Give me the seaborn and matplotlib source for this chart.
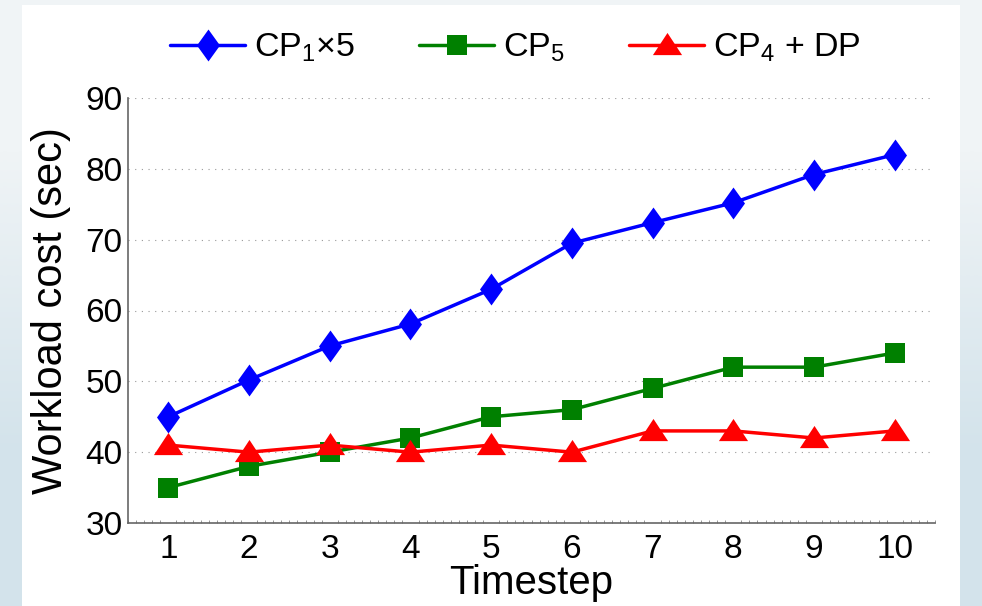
import numpy as np
import pandas as pd
import matplotlib
matplotlib.use('Agg')
import matplotlib.pyplot as plt
import seaborn as sns
from matplotlib.ticker import MultipleLocator, AutoMinorLocator
from matplotlib.patches import Rectangle
from matplotlib.colors import LinearSegmentedColormap

# Data -----------------------------------------------------------------------
timesteps = [1, 2, 3, 4, 5, 6, 7, 8, 9, 10]
cp1x5 = [45, 50.2, 55, 58.1, 63, 69.5, 72.4, 75.2, 79.2, 82]
cp5 = [35, 38, 40, 42, 45, 46, 49, 52, 52, 54]
cp4dp = [41, 40, 41, 40, 41, 40, 43, 43, 42, 43]
series_names = [r'CP$_1$×5', r'CP$_5$', r'CP$_4$ + DP']

data = pd.DataFrame({
    'Timestep': timesteps * 3,
    'cost': cp1x5 + cp5 + cp4dp,
    'series': np.repeat(series_names, len(timesteps)),
})

# MATLAB-like marker shapes (tall diamond, wide triangle)
diamond = [(0, 1), (0.72, 0), (0, -1), (-0.72, 0), (0, 1)]
triangle = [(0, 0.86), (1, -0.66), (-1, -0.66), (0, 0.86)]
marker_sizes = [23, 14.5, 21]

sns.set_style('white')
plt.rcParams['font.family'] = ['Liberation Sans', 'DejaVu Sans']
plt.rcParams['mathtext.fontset'] = 'custom'
plt.rcParams['mathtext.rm'] = 'Liberation Sans'
plt.rcParams['mathtext.it'] = 'Liberation Sans'
plt.rcParams['text.color'] = 'black'
plt.rcParams['axes.labelcolor'] = 'black'

fig = plt.figure(figsize=(9.82, 6.06), dpi=100)

# slide-like background: soft blue gradient with a white panel
bg = fig.add_axes([0, 0, 1, 1], zorder=-20)
bg_cmap = LinearSegmentedColormap.from_list('bg', ['#d3e3eb', '#f0f4f6'])
bg.imshow([[1.0], [0.0]], cmap=bg_cmap, aspect='auto', interpolation='bilinear',
          extent=[0, 1, 0, 1])
bg.axis('off')
bg.add_patch(Rectangle((22 / 982, 0), (960 - 22) / 982, 1 - 5 / 606,
                       facecolor='white', edgecolor='none'))
bg.set_xlim(0, 1)
bg.set_ylim(0, 1)

ax = fig.add_axes([128 / 982, 1 - 523 / 606, (935 - 128) / 982, (523 - 98) / 606])
ax.set_facecolor('white')

sns.lineplot(data=data, x='Timestep', y='cost', hue='series', style='series',
             palette=['#0000ff', '#008000', '#ff0000'],
             markers=[diamond, 's', triangle], dashes=False,
             markeredgewidth=0, linewidth=2.5, ax=ax, legend=False)

data_lines = ax.lines[:3]
for line, ms in zip(data_lines, marker_sizes):
    line.set_markersize(ms)

ax.set_xlim(0.5, 10.5)
ax.set_ylim(30, 90)
ax.xaxis.set_major_locator(MultipleLocator(1))
ax.xaxis.set_minor_locator(AutoMinorLocator(10))
ax.yaxis.set_major_locator(MultipleLocator(10))
ax.yaxis.grid(True, linestyle=(0, (1, 5)), color='#999999', linewidth=0.8)
ax.tick_params(axis='both', which='major', direction='in', length=6, labelsize=24,
               color='#666666', labelcolor='black')
ax.tick_params(axis='x', which='major', pad=8)
ax.tick_params(axis='y', which='major', pad=4)
ax.tick_params(axis='x', which='minor', direction='in', length=2.5, color='#888888', bottom=True)
for s in ['top', 'right']:
    ax.spines[s].set_visible(False)
for s in ['left', 'bottom']:
    ax.spines[s].set_color('#666666')
    ax.spines[s].set_linewidth(1.2)

ax.set_xlabel('Timestep', fontsize=29, labelpad=-1)
ax.set_ylabel('Workload cost (sec)', fontsize=30, labelpad=10)

ax.legend(data_lines, series_names, loc='center', bbox_to_anchor=(0.48, 1.118),
          ncol=3, frameon=False, fontsize=24.5, handlelength=2.2, handletextpad=0.25,
          columnspacing=1.9, borderaxespad=0)

plt.savefig('out.png', dpi=100)
